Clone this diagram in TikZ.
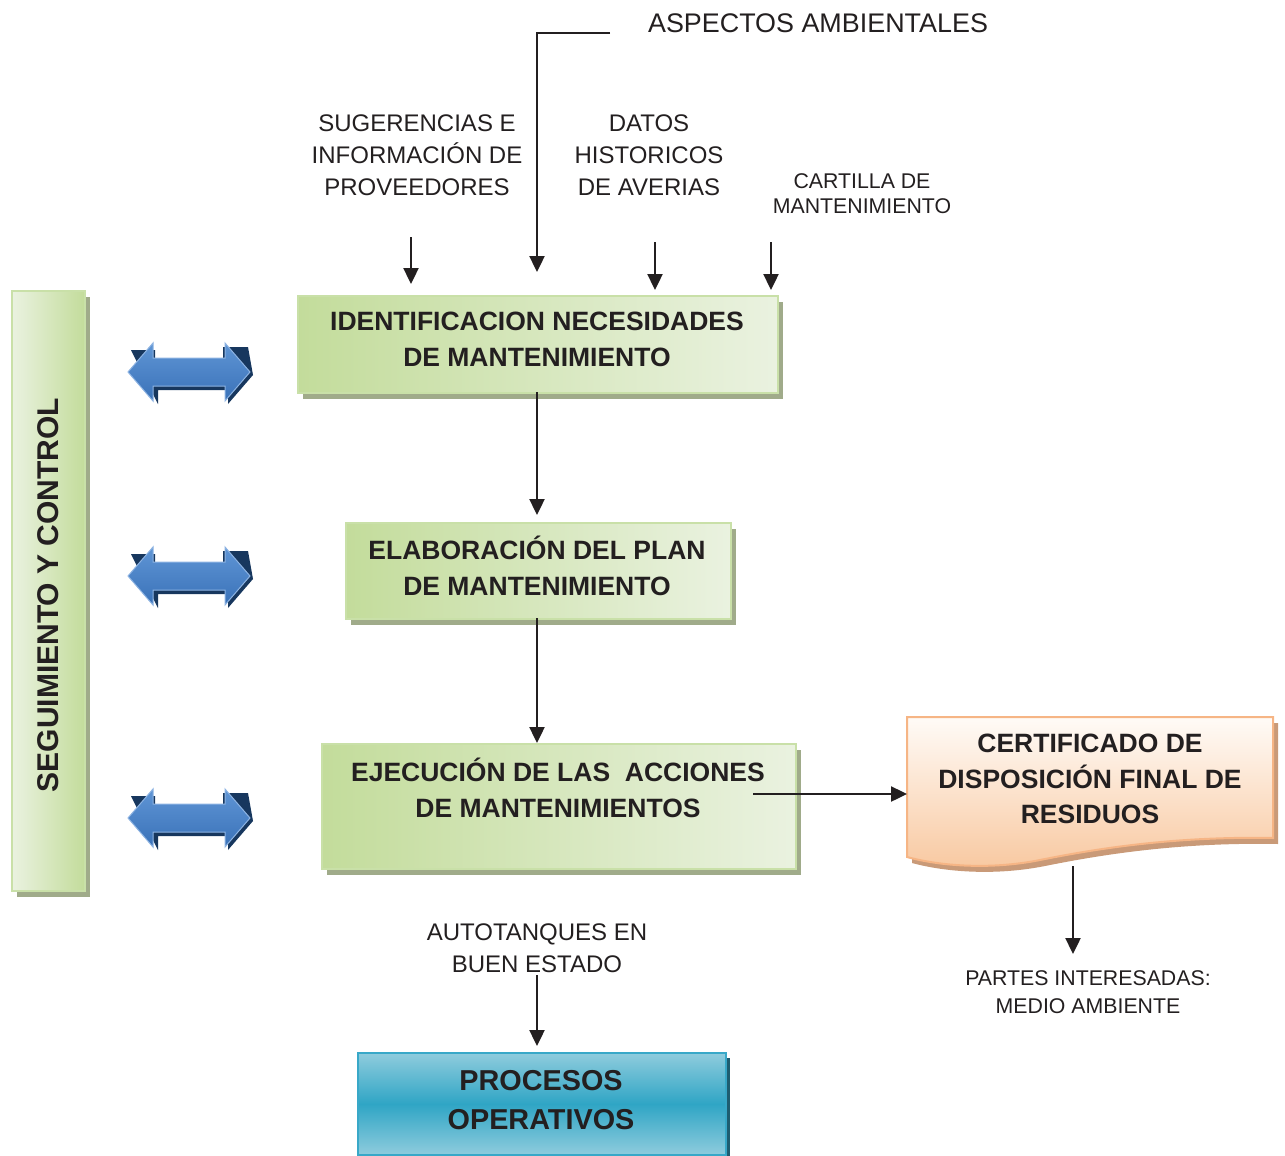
\documentclass[tikz,border=0pt]{standalone}
\usepackage{fontspec}
\setmainfont{Liberation Sans}
\usetikzlibrary{arrows.meta,shadows}

\definecolor{ink}{HTML}{231F20}
\definecolor{gBorder}{HTML}{C9E0A8}
\definecolor{gDark}{HTML}{C3DC9B}
\definecolor{gMid}{HTML}{E4EFD4}
\definecolor{gLight}{HTML}{EAF2E0}
\definecolor{gShadow}{HTML}{A0AB8A}
\definecolor{pTop}{HTML}{FFFBF7}
\definecolor{pBot}{HTML}{F8C8A0}
\definecolor{pBorder}{HTML}{F6B585}
\definecolor{pShadow}{HTML}{C99A78}
\definecolor{bTop}{HTML}{8FCCDD}
\definecolor{bMid}{HTML}{2FA5C5}
\definecolor{bBorder}{HTML}{38A8C8}
\definecolor{bShadow}{HTML}{1E5D70}
\definecolor{aTop}{HTML}{5F95D5}
\definecolor{aBot}{HTML}{3A72B8}
\definecolor{aBorder}{HTML}{8DB3E2}
\definecolor{aShadow}{HTML}{17375E}

\tikzset{
  note/.style={font=\fontsize{24}{32}\selectfont, align=center, text=ink, inner sep=0pt},
  smallnote/.style={font=\fontsize{21.3}{25}\selectfont, align=center, text=ink, inner sep=0pt},
  boxtext/.style={font=\bfseries\fontsize{26.5}{36}\selectfont, align=center, text=ink, inner sep=0pt},
  greenbox/.style={draw=gBorder, line width=2pt, left color=gDark, middle color=gMid, right color=gLight,
    drop shadow={shadow xshift=5pt, shadow yshift=-6pt, fill=gShadow, opacity=1},
    inner sep=0pt, anchor=north west},
  link/.style={draw=ink, line width=2.4pt, -{Triangle[width=15pt,length=16pt]}},
  twoway/.pic={
    \fill[aShadow] (-58,-22) -- (-34,-22) -- (-34,-12) -- (34,-12) -- (34,-25) -- (59,-25)
      -- (64,3) -- (39,32) -- (39,18) -- (-31,18) -- (-31,32) -- cycle;
    \shade[top color=aTop, bottom color=aBot, draw=aBorder, line width=1pt]
      (-61,0) -- (-36,-29) -- (-36,-14) -- (36,-14) -- (36,-29) -- (61,0)
      -- (36,29) -- (36,14) -- (-36,14) -- (-36,29) -- cycle;
  }
}

\begin{document}
\begin{tikzpicture}[x=1pt,y=-1pt]
\useasboundingbox (0,0) rectangle (1285,1156);

% side bar
\node[greenbox, left color=gLight, middle color=gMid, right color=gDark,
      minimum width=73pt, minimum height=600pt] (bar) at (11,290) {};
\node[boxtext, font=\bfseries\fontsize{30}{36}\selectfont, rotate=90] (barlabel) at (48,595) {SEGUIMIENTO Y CONTROL};

% double arrows
\pic at (189,372) {twoway};
\pic at (189,576) {twoway};
\pic at (189,818) {twoway};

% main steps
\node[greenbox, minimum width=480pt, minimum height=97pt] (ident) at (297,295) {};
\node[boxtext] (identtxt) at (537,339) {IDENTIFICACION NECESIDADES\\DE MANTENIMIENTO};

\node[greenbox, minimum width=385pt, minimum height=96pt] (plan) at (345,522) {};
\node[boxtext] (plantxt) at (537,566) {ELABORACIÓN DEL PLAN\\DE MANTENIMIENTO};

\node[greenbox, minimum width=474pt, minimum height=125pt] (ejec) at (321,743) {};
\node[boxtext] (ejectxt) at (558,788) {EJECUCIÓN DE LAS\ \ ACCIONES\\DE MANTENIMIENTOS};

% document shape for the certificate
\fill[pShadow] (912,723) -- (1278,723) -- (1278,844)
  .. controls (1175,842) and (1095,856) .. (1045,866)
  .. controls (995,876) and (945,872) .. (912,863) -- cycle;
\shade[top color=pTop, bottom color=pBot, draw=pBorder, line width=2pt]
  (907,717) -- (1273,717) -- (1273,838)
  .. controls (1170,836) and (1090,850) .. (1040,860)
  .. controls (990,870) and (940,866) .. (907,857) -- cycle;
\node[inner sep=0pt, minimum width=366pt, minimum height=140pt, anchor=north west] (cert) at (907,717) {};
\node[boxtext, font=\bfseries\fontsize{26.5}{35.5}\selectfont] (certtxt) at (1090,779)
  {CERTIFICADO DE\\DISPOSICIÓN FINAL DE\\RESIDUOS};

% operating processes
\fill[bShadow] (725,1058) rectangle (730,1156);
\node[draw=bBorder, line width=2pt, top color=bTop, bottom color=bTop, middle color=bMid,
      minimum width=368pt, minimum height=102pt, inner sep=0pt, anchor=north west] (proc) at (357,1052) {};
\node[boxtext, font=\bfseries\fontsize{28.8}{39}\selectfont] (proctxt) at (541,1100) {PROCESOS\\OPERATIVOS};

% inputs and outputs
\node[note, font=\fontsize{26.9}{32}\selectfont] (asp) at (818,23) {ASPECTOS AMBIENTALES};
\node[note] (sug) at (417,155) {SUGERENCIAS E\\INFORMACIÓN DE\\PROVEEDORES};
\node[note] (datos) at (649,155) {DATOS\\HISTORICOS\\DE AVERIAS};
\node[smallnote] (cart) at (862,193.5) {CARTILLA DE\\MANTENIMIENTO};
\node[note] (auto) at (537,948) {AUTOTANQUES EN\\BUEN ESTADO};
\node[smallnote, font=\fontsize{21.3}{28}\selectfont] (partes) at (1088,992) {PARTES INTERESADAS:\\MEDIO AMBIENTE};

% connector end points
\coordinate (aspStart) at (610,33);
\coordinate (aspEnd) at (537,272);
\coordinate (sugStart) at (411,237);
\coordinate (sugEnd) at (411,284);
\coordinate (datStart) at (655,242);
\coordinate (datEnd) at (655,290);
\coordinate (carStart) at (771,242);
\coordinate (carEnd) at (771,290);
\coordinate (ejecOut) at (753,794);
\coordinate (certOut) at (1073,866);
\coordinate (partesIn) at (1073,954);
\coordinate (autoOut) at (537,975);
\coordinate (flowTop) at (537,392);
\coordinate (flowMid) at (537,618);

% connectors
\draw[link] (aspStart) -| (aspEnd);
\draw[link] (sugStart) -- (sugEnd);
\draw[link] (datStart) -- (datEnd);
\draw[link] (carStart) -- (carEnd);
\draw[link, shorten >=7pt] (flowTop) -- (flowTop |- plan.north);
\draw[link] (flowMid) -- (flowMid |- ejec.north);
\draw[link] (ejecOut) -- (ejecOut -| cert.west);
\draw[link] (certOut) -- (partesIn);
\draw[link, shorten >=6pt] (autoOut) -- (autoOut |- proc.north);
\end{tikzpicture}
\end{document}
